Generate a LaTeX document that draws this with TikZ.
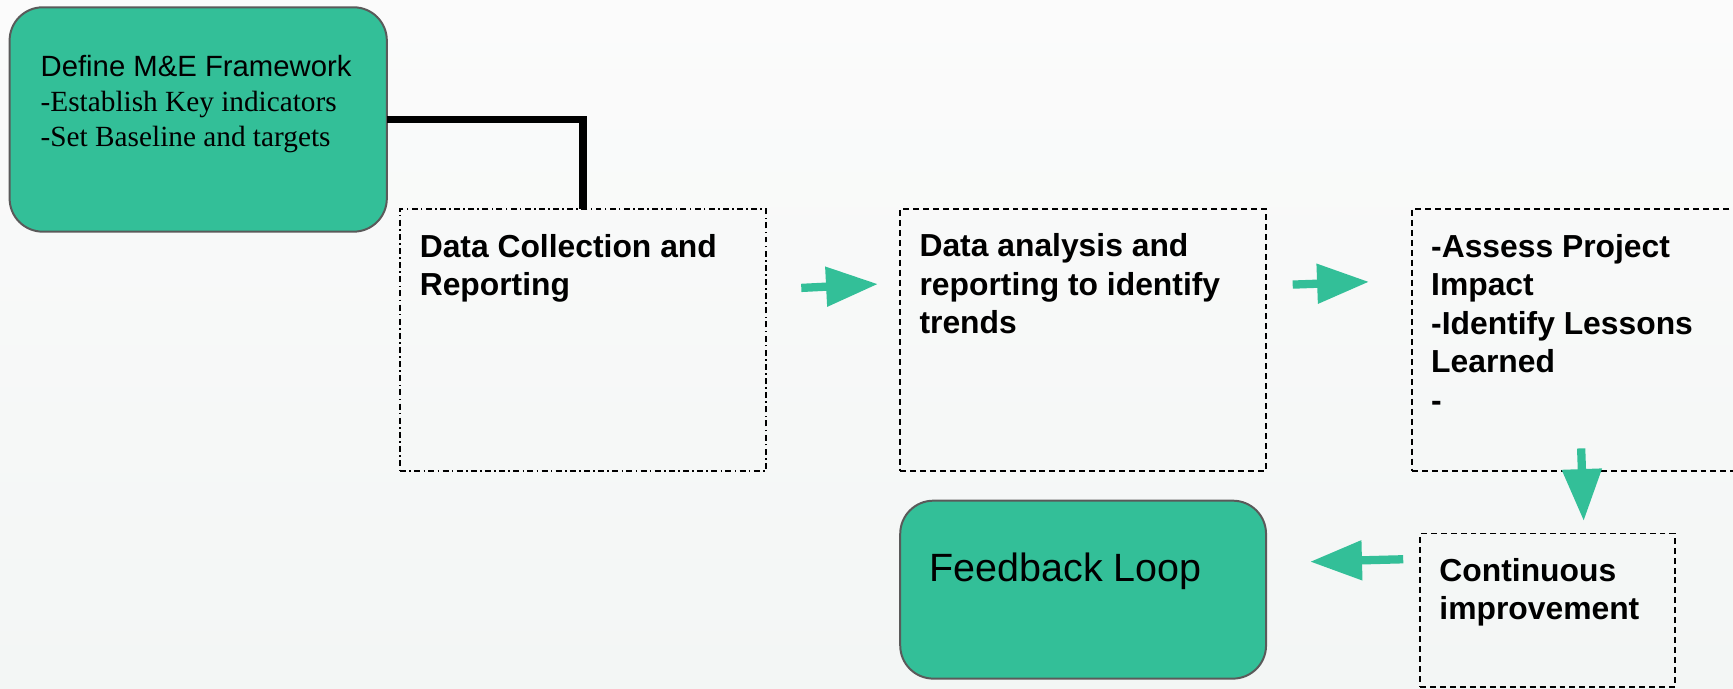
\documentclass[tikz,border=0pt]{standalone}
\usepackage{fontspec}
\setmainfont{Liberation Sans}
\newfontfamily\timesf{Liberation Serif}
\usetikzlibrary{arrows.meta}
\definecolor{tealfill}{RGB}{51,191,152}
\definecolor{edgegray}{RGB}{90,90,90}
\definecolor{bgtop}{RGB}{251,251,251}
\definecolor{bgbot}{RGB}{243,246,245}
\tikzset{
  greenbox/.style={draw=edgegray, line width=0.9pt, fill=tealfill, rounded corners=15pt, inner sep=0pt, outer sep=0pt},
  dashbox/.style={draw=black, line width=0.8pt, dash pattern=on 2.7pt off 1.8pt, inner sep=0pt, outer sep=0pt},
  dashdotbox/.style={draw=black, line width=0.8pt, dash pattern=on 2.7pt off 1.5pt on 0.7pt off 1.5pt, inner sep=0pt, outer sep=0pt},
  boldtxt/.style={anchor=base west, inner sep=0pt, align=left, font=\fontsize{14.4pt}{17.4pt}\selectfont\bfseries},
  flowarrow/.style={draw=tealfill, line width=3.75pt, -{Triangle[length=23.5pt,width=17.2pt]}},
  elbow/.style={draw=black, line width=3.2pt},
}
\begin{document}
\begin{tikzpicture}[x=0.5pt,y=-0.5pt]
\useasboundingbox (0,0) rectangle (1568,622.5);
\shade[top color=bgtop, bottom color=bgbot] (0,0) rectangle (1568,622.5);

% boxes
\node[greenbox, minimum width=170.65pt, minimum height=101.5pt] (define) at (179.35,108.1) {};
\node[dashdotbox, minimum width=165.5pt, minimum height=118.5pt] (dc) at (527.5,307.5) {};
\node[dashbox, minimum width=165.5pt, minimum height=118.5pt] (da) at (980,307.5) {};
\node[dashbox, minimum width=165.5pt, minimum height=118.5pt] (as) at (1443.1,307.5) {};
\node[greenbox, minimum width=165.5pt, minimum height=80.5pt] (fb) at (980,533.5) {};
\node[dashbox, minimum width=115.3pt, minimum height=69.35pt] (ci) at (1400.3,551.95) {};

% texts (anchored at the baseline of their last line)
\node[anchor=base west, inner sep=0pt, align=left, font=\fontsize{13.25pt}{16pt}\selectfont] (definetxt) at (36.4,132.8)
  {Define M\&E Framework\\{\timesf -Establish Key indicators}\\{\timesf -Set Baseline and targets}};
\node[boldtxt] (dctxt) at (379.4,267.6) {Data Collection and\\Reporting};
\node[boldtxt] (datxt) at (831.6,302) {Data analysis and\\reporting to identify\\trends};
\node[boldtxt] (astxt) at (1294.5,372) {-Assess Project\\Impact\\-Identify Lessons\\Learned\\-};
\node[boldtxt] (citxt) at (1302,560.5) {Continuous\\improvement};
\node[anchor=base west, inner sep=0pt, font=\fontsize{17.85pt}{21pt}\selectfont] (fbtxt) at (840.6,525.7) {Feedback Loop};

% elbow connector
\draw[elbow] (define.east) -| (dc.north);

% arrows
\coordinate (a1s) at (725,260.5);   \coordinate (a1e) at (794.4,257);
\coordinate (a2s) at (1169.6,257.5); \coordinate (a2e) at (1238.7,255);
\coordinate (a3s) at (1430.6,405.7); \coordinate (a3e) at (1432.9,471.4);
\coordinate (a4s) at (1269.6,506);  \coordinate (a4e) at (1185.3,508.2);
\draw[flowarrow] (a1s) -- (a1e);
\draw[flowarrow] (a2s) -- (a2e);
\draw[flowarrow] (a3s) -- (a3e);
\draw[flowarrow] (a4s) -- (a4e);
\end{tikzpicture}
\end{document}
